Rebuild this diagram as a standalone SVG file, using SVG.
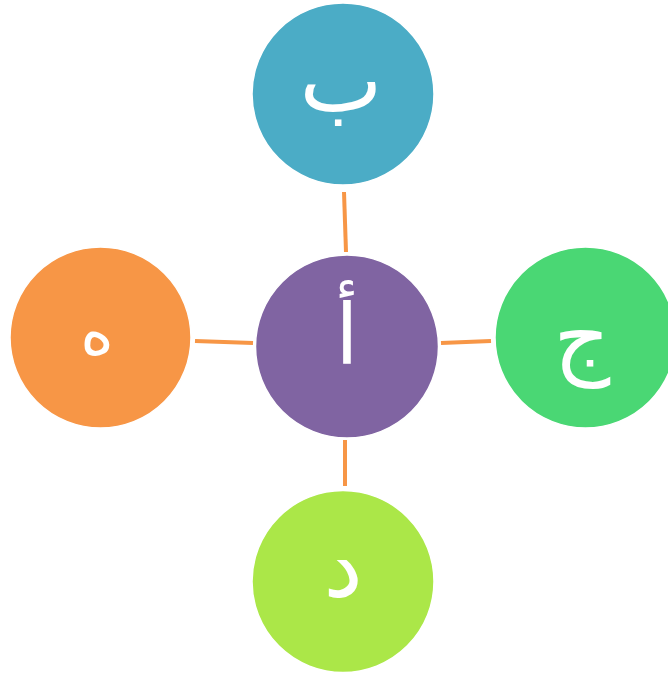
<svg xmlns="http://www.w3.org/2000/svg" width="668" height="673" viewBox="0 0 668 673">
<style>
.node{stroke:#ffffff;stroke-width:1.5}
.lbl{fill:#ffffff;font-family:"DejaVu Sans",sans-serif;font-size:88px;text-anchor:middle}
.conn{stroke:#F79646;stroke-width:4;fill:none}
</style>
<rect width="668" height="673" fill="#ffffff"/>
<g id="connectors">
<line class="conn" x1="344" y1="192" x2="346" y2="252"/>
<line class="conn" x1="345" y1="440" x2="345" y2="486"/>
<line class="conn" x1="195" y1="341" x2="253" y2="343"/>
<line class="conn" x1="441" y1="343" x2="491" y2="341"/>
</g>
<g id="node-a">
<circle class="node" cx="347" cy="346.5" r="91.5" fill="#8064A2"/>
<text class="lbl" x="347" y="364" style="font-size:84px">أ</text>
</g>
<g id="node-b">
<circle class="node" cx="343" cy="94" r="91" fill="#4BACC6"/>
<text class="lbl" x="341" y="111">ب</text>
</g>
<g id="node-j">
<circle class="node" cx="585.5" cy="337.5" r="90.5" fill="#4AD774"/>
<text class="lbl" x="582" y="368">ج</text>
</g>
<g id="node-h">
<circle class="node" cx="100.5" cy="337.5" r="90.5" fill="#F79646"/>
<text class="lbl" x="97" y="354" style="font-size:64px">ه</text>
</g>
<g id="node-d">
<circle class="node" cx="343" cy="581.5" r="91" fill="#ABE748"/>
<text class="lbl" x="343" y="596">د</text>
</g>
</svg>
